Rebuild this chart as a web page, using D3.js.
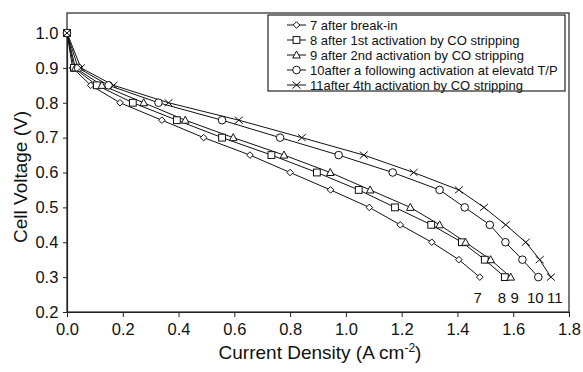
<!DOCTYPE html>
<html><head><meta charset="utf-8">
<script src="https://cdn.jsdelivr.net/npm/d3@7"></script>
<style>body{margin:0;background:#fff;} svg{display:block;font-family:"Liberation Sans",Arial,sans-serif;}</style>
</head><body>
<svg id="c" width="583" height="372"></svg>
<script>
const voltages = [1.0,0.9,0.85,0.80,0.75,0.70,0.65,0.60,0.55,0.50,0.45,0.40,0.35,0.30];
const s7  = [0,0.02,0.085,0.19,0.34,0.49,0.656,0.80,0.945,1.084,1.195,1.308,1.405,1.48];
const s8  = [0,0.025,0.107,0.236,0.394,0.556,0.733,0.896,1.046,1.176,1.306,1.416,1.498,1.57];
const s9  = [0,0.03,0.125,0.275,0.424,0.596,0.778,0.944,1.087,1.231,1.336,1.429,1.519,1.591];
const s10 = [0,0.04,0.149,0.328,0.556,0.764,0.974,1.168,1.336,1.426,1.516,1.572,1.633,1.69];
const s11 = [0,0.05,0.167,0.364,0.616,0.842,1.064,1.243,1.405,1.495,1.573,1.645,1.695,1.735];
const seriesNames = ["7 after break-in","8 after 1st activation by CO stripping","9 after 2nd activation by CO stripping","10after a following activation at elevatd T/P","11after 4th activation by CO stripping"];
const endLabels = ["7","8","9","10","11"];
const markers = ["diamond","square","triangle","circle","cross"];
const xTicks = [0,0.2,0.4,0.6,0.8,1.0,1.2,1.4,1.6,1.8];
const yTicks = [0.2,0.3,0.4,0.5,0.6,0.7,0.8,0.9,1.0];

const series = [s7,s8,s9,s10,s11].map((xs,i)=>({name:seriesNames[i],label:endLabels[i],marker:markers[i],pts:xs.map((x,j)=>[x,voltages[j]])}));
// horizontal nudges so the end labels do not collide (layout only)
const labelNudge = [-2,-3,4,-3,4];

const svg = d3.select("#c");
const x = d3.scaleLinear().domain([0,1.8]).range([67,569]);
const y = d3.scaleLinear().domain([0.2,1.0]).range([312,33]);

svg.append("rect").attr("x",67).attr("y",13).attr("width",502).attr("height",299)
  .attr("fill","none").attr("stroke","#222").attr("stroke-width",1.2);

const xa = svg.append("g").attr("transform","translate(0,312)")
  .call(d3.axisBottom(x).tickValues(xTicks).tickFormat(d3.format(".1f")).tickSize(5).tickSizeOuter(0));
const ya = svg.append("g").attr("transform","translate(67,0)")
  .call(d3.axisLeft(y).tickValues(yTicks).tickFormat(d3.format(".1f")).tickSize(4).tickSizeOuter(0));
[xa,ya].forEach(g=>{
  g.select(".domain").attr("stroke","#222").attr("stroke-width",1.2);
  g.selectAll(".tick line").attr("stroke","#222");
  g.selectAll(".tick text").attr("font-size",16.5).attr("fill","#111").attr("font-family","Liberation Sans, Arial, sans-serif");
});
xa.selectAll(".tick text").attr("dy","0.9em");
ya.selectAll(".tick text").attr("dx","-0.1em");

svg.append("text").attr("transform","translate(27,177) rotate(-90)").attr("text-anchor","middle")
  .attr("font-size",19).attr("fill","#111").text("Cell Voltage (V)");
const xt = svg.append("text").attr("x",320).attr("y",359).attr("text-anchor","middle").attr("font-size",19).attr("fill","#111");
xt.append("tspan").text("Current Density (A cm");
xt.append("tspan").attr("dy",-7).attr("font-size",12).text("-2");
xt.append("tspan").attr("dy",7).text(")");

function drawMarker(g, type, cx, cy){
  const s = 3.4;
  if(type==="diamond"){
    g.append("path").attr("d",`M${cx},${cy-3.3}L${cx+3.3},${cy}L${cx},${cy+3.3}L${cx-3.3},${cy}Z`).attr("fill","#fff").attr("stroke","#111");
  } else if(type==="square"){
    g.append("rect").attr("x",cx-s).attr("y",cy-s).attr("width",2*s).attr("height",2*s).attr("fill","#fff").attr("stroke","#111");
  } else if(type==="triangle"){
    g.append("path").attr("d",`M${cx},${cy-4}L${cx+3.8},${cy+3}L${cx-3.8},${cy+3}Z`).attr("fill","#fff").attr("stroke","#111");
  } else if(type==="circle"){
    g.append("circle").attr("cx",cx).attr("cy",cy).attr("r",3.8).attr("fill","#fff").attr("stroke","#111");
  } else {
    g.append("path").attr("d",`M${cx-4},${cy-3.5}L${cx+4},${cy+3.5}M${cx-4},${cy+3.5}L${cx+4},${cy-3.5}`).attr("fill","none").attr("stroke","#111");
  }
}

const line = d3.line().x(d=>x(d[0])).y(d=>y(d[1]));
series.forEach(s=>{
  svg.append("path").datum(s.pts).attr("d",line).attr("fill","none").attr("stroke","#111").attr("stroke-width",1);
});
series.forEach((s,i)=>{
  const g = svg.append("g");
  s.pts.forEach(p=>drawMarker(g,s.marker,x(p[0]),y(p[1])));
  const last = s.pts[s.pts.length-1];
  svg.append("text").attr("x",x(last[0])+labelNudge[i]).attr("y",y(last[1])+26).attr("text-anchor","middle")
    .attr("font-size",15).attr("fill","#111").text(s.label);
});

const lg = svg.append("g");
lg.append("rect").attr("x",268).attr("y",15).attr("width",297).attr("height",76).attr("fill","#fff").attr("stroke","#222").attr("stroke-width",1.2);
series.forEach((s,i)=>{
  const ly = 25 + i*15;
  lg.append("line").attr("x1",287).attr("x2",306).attr("y1",ly).attr("y2",ly).attr("stroke","#111");
  drawMarker(lg,s.marker,296.5,ly);
  lg.append("text").attr("x",310).attr("y",ly+4.5).attr("font-size",13).attr("fill","#111").text(s.name);
});
</script>
</body></html>
